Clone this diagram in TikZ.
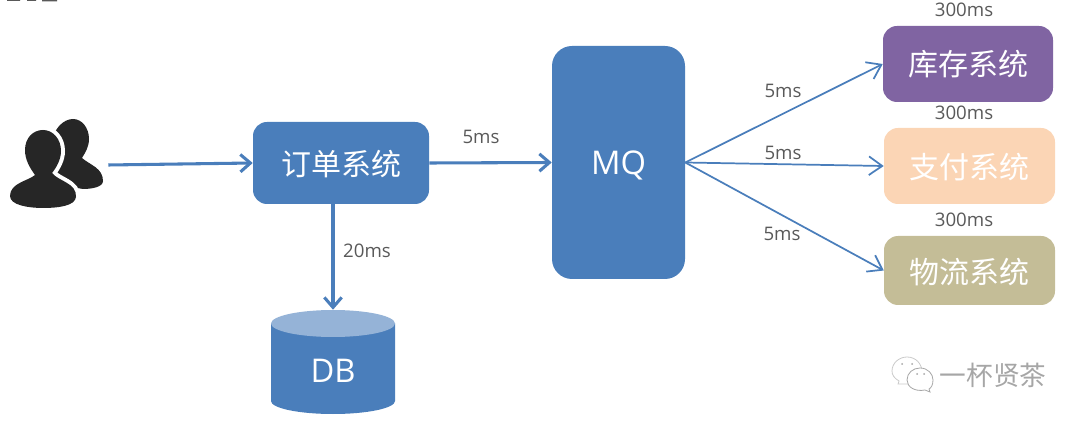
\documentclass[tikz,border=0pt]{standalone}
\usepackage{fontspec}
\setmainfont{Open Sans}
\newfontfamily\cjk{Noto Sans CJK SC}
\usetikzlibrary{arrows.meta}
\definecolor{mainblue}{HTML}{4A7EBB}
\definecolor{toplight}{HTML}{95B3D7}
\definecolor{labelgray}{HTML}{595959}
\definecolor{iconblack}{HTML}{262626}
\definecolor{purplebox}{HTML}{8064A2}
\definecolor{peachbox}{HTML}{FBD5B5}
\definecolor{khakibox}{HTML}{C4BD97}
\definecolor{markgray}{HTML}{A6A6A6}
\newcommand{\lowered}[2]{\raisebox{-#1}[\height][\depth]{#2}}
\tikzset{
  x=0.75pt,y=-0.75pt,
  sysbox/.style={draw=none,fill=#1,rounded corners=10.5pt,inner sep=0pt,text=white,
    font=\fontsize{22.5}{26}\selectfont\cjk},
  timelabel/.style={text=labelgray,inner sep=0pt,font=\fontsize{14}{16}\selectfont},
  biglabel/.style={inner sep=0pt,text=white,font=\fontsize{24.5}{28}\selectfont},
  thickflow/.style={draw=mainblue,line width=2.3pt,-{Straight Barb[length=7.5pt,width=13pt,line width=2.3pt]}},
  thinflow/.style={draw=mainblue,line width=1.3pt,-{Straight Barb[length=10pt,width=14pt,line width=1.3pt]}},
  bubble/.style={draw=markgray,fill=white,line width=0.6pt},
}
\begin{document}
\begin{tikzpicture}
\useasboundingbox (0,0) rectangle (1080,423);
% fragments cut off at the top edge
\fill[labelgray] (7,0) rectangle (20,1) (27,0) rectangle (36,1) (42,0) rectangle (57,1.5);
% users icon
\fill[iconblack] (73,119) .. controls (82,119) and (89,128) .. (89,139)
  .. controls (89,147) and (85,153) .. (82,158)
  .. controls (90,165) and (103,168) .. (103,181)
  .. controls (103,187) and (92,189) .. (83,189)
  -- (60,185) -- (50,150)
  .. controls (52,128) and (64,119) .. (73,119) -- cycle;
\path[draw=white,line width=6pt]
  (43,130) .. controls (53,130) and (61,139) .. (61,151)
  .. controls (61,160) and (56,168) .. (52,173)
  .. controls (58,181) and (77,183) .. (76,197)
  .. controls (75,206) and (58,208) .. (43,208)
  .. controls (28,208) and (10,205) .. (10,196)
  .. controls (10,183) and (28,181) .. (35,175)
  .. controls (30,168) and (25,160) .. (25,150)
  .. controls (25,138) and (33,130) .. (43,130) -- cycle;
\fill[iconblack]
  (43,130) .. controls (53,130) and (61,139) .. (61,151)
  .. controls (61,160) and (56,168) .. (52,173)
  .. controls (58,181) and (77,183) .. (76,197)
  .. controls (75,206) and (58,208) .. (43,208)
  .. controls (28,208) and (10,205) .. (10,196)
  .. controls (10,183) and (28,181) .. (35,175)
  .. controls (30,168) and (25,160) .. (25,150)
  .. controls (25,138) and (33,130) .. (43,130) -- cycle;
\node[inner sep=0pt,minimum size=0pt] (users) at (108,165) {};
% boxes
\node[sysbox=mainblue,minimum width=132pt,minimum height=61.5pt] (order) at (341,163) {\lowered{0.75pt}{订单系统}};
\node[sysbox=mainblue,minimum width=99.75pt,minimum height=174.75pt,rounded corners=15pt,
  font=\fontsize{24.5}{28}\selectfont] (mq) at (618.5,162.5) {\lowered{2.4pt}{MQ}};
\node[sysbox=purplebox,minimum width=127.5pt,minimum height=57pt] (stock) at (968,64) {库存系统};
\node[sysbox=peachbox,minimum width=128.25pt,minimum height=57pt] (pay) at (969.5,166) {\lowered{0.75pt}{支付系统}};
\node[sysbox=khakibox,minimum width=128.25pt,minimum height=51.75pt] (ship) at (969.5,270.5) {\lowered{1.5pt}{物流系统}};
% database
\fill[mainblue] (271,323.5) -- (271,401) arc[start angle=180,end angle=0,x radius=62,y radius=13]
  -- (395,323.5) -- cycle;
\fill[toplight] (333,323.5) ellipse[x radius=62,y radius=13.5];
\node[inner sep=0pt,minimum width=93pt,minimum height=78pt] (db) at (333,362) {};
\node[biglabel] (dblabel) at (333,371) {DB};
% connectors
\coordinate (orderfoot) at (order.south -| db.north);
\draw[thickflow] (orderfoot) -- (db.north);
\draw[thickflow] (users) -- (order.west);
\draw[thickflow] (order.east) -- (mq.west);
\draw[thinflow] (mq.east) -- (stock.west);
\draw[thinflow] (mq.east) -- (pay.west);
\draw[thinflow] (mq.east) -- (ship.west);
% labels
\node[timelabel] (l1) at (481,137) {5ms};
\node[timelabel] (l2) at (367,251) {20ms};
\node[timelabel] (l3) at (783,91) {5ms};
\node[timelabel] (l4) at (783,152.5) {5ms};
\node[timelabel] (l5) at (782,234) {5ms};
\node[timelabel] (t1) at (964,10) {300ms};
\node[timelabel] (t2) at (964,113) {300ms};
\node[timelabel] (t3) at (964,220) {300ms};
% watermark
\draw[bubble,draw=markgray!60] (907,357) .. controls (916,357) and (922,364) .. (922,372)
  .. controls (922,380) and (914,385) .. (906,384) -- (898,384) -- (899,381)
  .. controls (894,378) and (892,375) .. (892,371)
  .. controls (892,363) and (899,357) .. (907,357) -- cycle;
\fill[markgray] (902,364) circle[radius=1] (912,364) circle[radius=1];
\draw[bubble] (920,368) .. controls (928,368) and (933,374) .. (933,380)
  .. controls (933,385) and (931,388) .. (929,389) -- (930,392) -- (925,390)
  .. controls (915,392) and (907,387) .. (907,380)
  .. controls (907,373) and (913,368) .. (920,368) -- cycle;
\fill[markgray] (917,374) circle[radius=1] (924,374) circle[radius=1];
\node[inner sep=0pt,text=markgray,font=\fontsize{20}{22}\selectfont\cjk] (mark) at (993,375.5) {一杯贤茶};
\end{tikzpicture}
\end{document}
